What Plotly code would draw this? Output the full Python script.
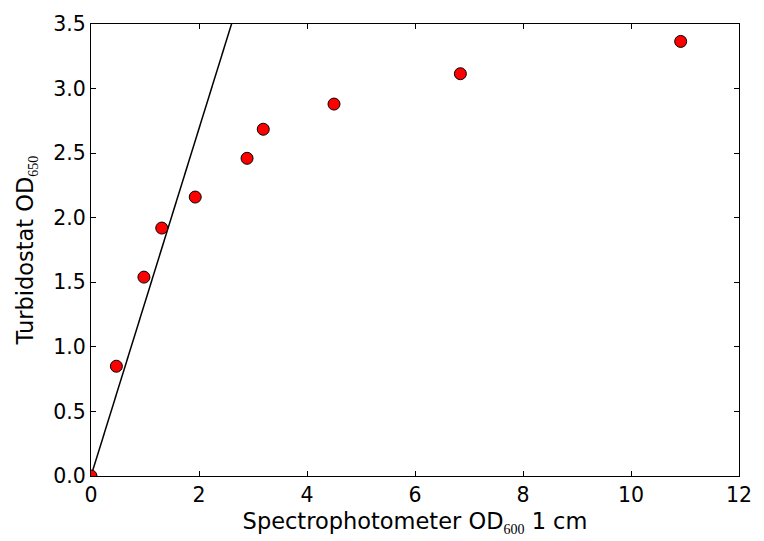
import plotly.graph_objects as go

# Calibration: spectrophotometer OD600 (1 cm path) vs turbidostat OD650
spec_od600 = [0.0, 0.47, 0.98, 1.31, 1.93, 2.89, 3.19, 4.50, 6.84, 10.92]
turb_od650 = [0.0, 0.85, 1.54, 1.92, 2.16, 2.46, 2.685, 2.88, 3.115, 3.365]

# Reference line through the origin (linear regime)
line_slope = 1.345
line_x = [0.0, 12.0]
line_y = [line_slope * v for v in line_x]

x_ticks = [0, 2, 4, 6, 8, 10, 12]
y_ticks = [0.0, 0.5, 1.0, 1.5, 2.0, 2.5, 3.0, 3.5]

SUB = ("<sub><span style='font-family:\"Liberation Serif\", serif;"
       "font-size:14px'>{}</span></sub>")

fig = go.Figure()
fig.add_trace(go.Scatter(
    x=line_x, y=line_y, mode="lines",
    line=dict(color="black", width=1.5),
    showlegend=False, hoverinfo="skip",
))
fig.add_trace(go.Scatter(
    x=spec_od600, y=turb_od650, mode="markers",
    marker=dict(color="red", size=12, line=dict(color="black", width=1)),
    showlegend=False,
))

axis_common = dict(
    showgrid=False, zeroline=False,
    showline=True, linecolor="black", linewidth=1.2, mirror="allticks",
    ticks="inside", ticklen=5, tickwidth=1, tickcolor="black",
    tickfont=dict(family="DejaVu Sans", size=20.5, color="black"),
)

fig.update_layout(
    width=764, height=541,
    margin=dict(l=91, r=20, t=20, b=65),
    paper_bgcolor="white", plot_bgcolor="white",
    font=dict(family="DejaVu Sans", size=20, color="black"),
    xaxis=dict(
        range=[0, 12], tickvals=x_ticks,
        ticktext=[str(v) for v in x_ticks],
        title=dict(text="Spectrophotometer OD" + SUB.format("600") + " 1 cm",
                   font=dict(size=22.5), standoff=7),
        **axis_common,
    ),
    yaxis=dict(
        range=[0, 3.5], tickvals=y_ticks,
        ticktext=[f"{v:.1f}" for v in y_ticks],
        title=dict(text="Turbidostat OD" + SUB.format("650"),
                   font=dict(size=22.5), standoff=13),
        **axis_common,
    ),
)

fig.write_html("out.html")
